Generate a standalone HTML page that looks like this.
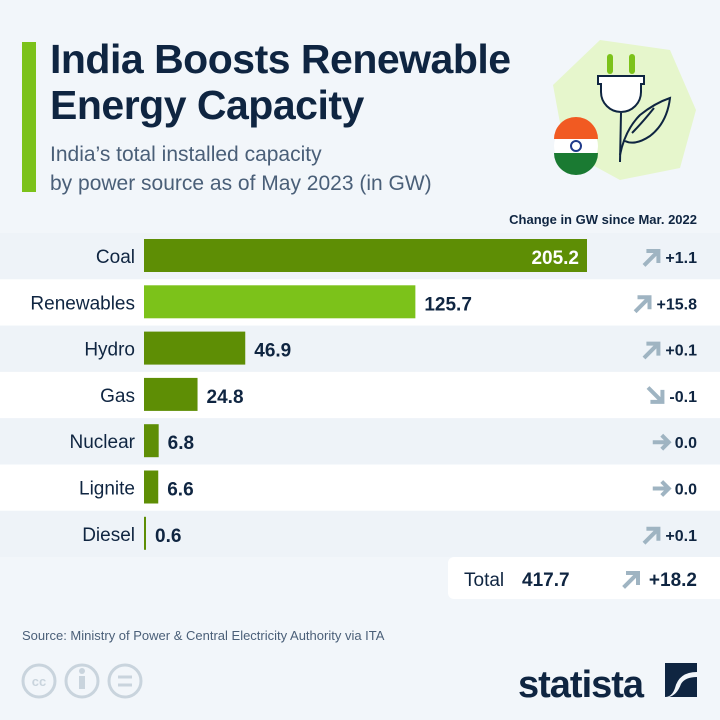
<!DOCTYPE html>
<html><head><meta charset="utf-8"><style>
body{margin:0;width:720px;height:720px;background:#f2f6fa;font-family:"Liberation Sans",sans-serif;overflow:hidden;position:relative}
.abs{position:absolute}
</style></head><body>
<div class="abs" style="left:22px;top:42px;width:14px;height:150px;background:#7cc21a"></div>
<div class="abs" style="left:50px;top:36px;font-size:41px;font-weight:bold;color:#0f2541;line-height:46px;letter-spacing:-0.5px">India Boosts Renewable<br>Energy Capacity</div>
<div class="abs" style="left:50px;top:140px;font-size:21px;color:#4a5f78;line-height:29px">India’s total installed capacity<br>by power source as of May 2023 (in GW)</div>
<svg class="abs" style="left:0;top:0" width="720" height="720">
<defs>
<g id="arr-up"><path d="M-6,7 L6,-5 M-3,-6 H7 V4" fill="none" stroke="#9fb4c2" stroke-width="4" stroke-linecap="square"/></g>
<g id="arr-down"><path d="M-6,-7 L6,5 M-3,6 H7 V-4" fill="none" stroke="#9fb4c2" stroke-width="4" stroke-linecap="square"/></g>
<g id="arr-right"><path d="M-8,0 H7 M1,-7 L8,0 L1,7" fill="none" stroke="#9fb4c2" stroke-width="4"/></g>
</defs>
<g>
<polygon points="600,40 670,50 696,110 680,168 620,180 565,150 553,85" fill="#e6f6cc"/>
<rect x="607" y="54" width="6" height="20" rx="3" fill="#7cc21a"/><rect x="629" y="54" width="6" height="20" rx="3" fill="#7cc21a"/>
<path d="M598,76 h46 v8 h-3 v8 a20,20 0 0 1 -40,0 v-8 h-3z" fill="#fff" stroke="#0f2541" stroke-width="2"/>
<line x1="621" y1="113" x2="620" y2="162" stroke="#0f2541" stroke-width="2"/>
<path d="M620,155 q5,-25 20,-40 q15,-12 30,-17 q-3,25 -20,38 q-15,10 -25,5 M632,133 q10,-10 22,-25" fill="none" stroke="#0f2541" stroke-width="2"/>
<circle cx="576" cy="146" r="22" fill="#fff"/>
<path d="M554,139 a22,22 0 0 1 44,0z" fill="#f15a22"/>
<path d="M554,153 a22,22 0 0 0 44,0z" fill="#1a7a32"/>
<circle cx="576" cy="146" r="5" fill="none" stroke="#1f3a8a" stroke-width="2"/>
</g>
<text x="697" y="224" text-anchor="end" font-size="13" font-weight="bold" fill="#0f2541">Change in GW since Mar. 2022</text>
<g id="rows"></g>
<g>
<rect x="448" y="557" width="290" height="42" rx="6" fill="#fff"/>
<text x="464" y="586" font-size="19" fill="#0f2541">Total</text>
<text x="522" y="586" font-size="19" font-weight="bold" fill="#0f2541">417.7</text>
<use href="#arr-up" x="631" y="579"/>
<text x="697" y="586" text-anchor="end" font-size="19" font-weight="bold" fill="#0f2541">+18.2</text>
</g>
<text x="22" y="640" font-size="13" fill="#4a5f78">Source: Ministry of Power &amp; Central Electricity Authority via ITA</text>
<g fill="none" stroke="#c9d4dd" stroke-width="3">
<circle cx="39" cy="681" r="16"/><circle cx="82" cy="681" r="16"/><circle cx="125" cy="681" r="16"/>
<text x="39" y="686" text-anchor="middle" font-size="13" font-weight="bold" fill="#c9d4dd" stroke="none">cc</text>
<rect x="79" y="676" width="6" height="13" fill="#c9d4dd" stroke="none"/><circle cx="82" cy="671" r="3" fill="#c9d4dd" stroke="none"/>
<line x1="118" y1="677" x2="132" y2="677"/><line x1="118" y1="685" x2="132" y2="685"/>
</g>
<text x="518" y="697" font-size="38" font-weight="bold" fill="#0f2541" letter-spacing="-1">statista</text>
<path d="M665,663 h32 v9 q-18,0 -22,16 q-3,9 -10,9z M697,697 h-28 q8,-2 12,-13 q4,-7 16,-7z" fill="#0f2541"/>
</svg>
<script>
const categories=["Coal","Renewables","Hydro","Gas","Nuclear","Lignite","Diesel"];
const values=[205.2,125.7,46.9,24.8,6.8,6.6,0.6];
const changes=[1.1,15.8,0.1,-0.1,0.0,0.0,0.1];
const g=document.getElementById('rows');
const NS="http://www.w3.org/2000/svg";
const x0=144,scale=443/205.2,top0=233,pitch=46.3;
const xs=v=>v*scale;
function mk(t,a){const e=document.createElementNS(NS,t);for(const k in a)e.setAttribute(k,a[k]);return e;}
categories.forEach((c,i)=>{
 const y=top0+i*pitch;
 const band=mk('rect',{x:0,y:y,width:720,height:pitch,fill:i%2==0?'#eef3f8':'#ffffff'});
 
 
 g.appendChild(band);
 const lab=mk('text',{x:135,y:y+30,'text-anchor':'end','font-size':19,fill:'#0f2541'});lab.textContent=c;
 
 
 g.appendChild(lab);
 const w=Math.max(xs(values[i]),2);
 const bar=mk('rect',{x:x0,y:y+6,width:w,height:33,fill:c=="Renewables"?'#7cc21a':'#5e8e05'});
 
 
 g.appendChild(bar);
 const inside=w>350;
 const vl=mk('text',{x:inside?x0+w-8:x0+w+9,y:y+31,'text-anchor':inside?'end':'start','font-size':19,'font-weight':'bold',fill:inside?'#fff':'#0f2541'});
 vl.textContent=values[i].toFixed(1);
 
 
 g.appendChild(vl);
 const d=changes[i];
 const cl=mk('text',{x:697,y:y+30,'text-anchor':'end','font-size':16,'font-weight':'bold',fill:'#0f2541'});
 cl.textContent=(d>0?'+':'')+d.toFixed(1);
 
 
 g.appendChild(cl);
 const tw=cl.getComputedTextLength();
 const ar=mk('use',{href:d>0?'#arr-up':d<0?'#arr-down':'#arr-right',x:697-tw-14,y:y+24});
 
 
 g.appendChild(ar);
});
</script>
</body></html>
